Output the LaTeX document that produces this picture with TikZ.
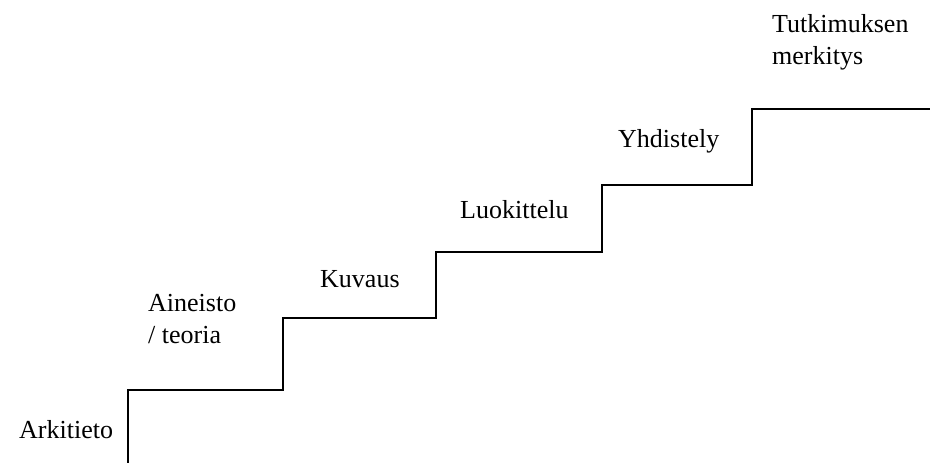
\documentclass[tikz,border=0pt]{standalone}
\usepackage{fontspec}
\setmainfont{Liberation Serif}
\begin{document}
\begin{tikzpicture}[x=1pt,y=-1pt,
  stairline/.style={line width=2pt,line join=miter},
  steplabel/.style={anchor=base west,inner sep=0pt,align=left,
    font=\fontsize{26}{31.5}\selectfont}]
  \useasboundingbox (0,0) rectangle (930,463);
  % staircase
  \draw[stairline] (128,463) -- (128,390) -- (283,390) -- (283,318)
    -- (436,318) -- (436,252) -- (602,252) -- (602,185)
    -- (752,185) -- (752,109) -- (930,109);
  % step labels (multi-line labels are placed by their last baseline)
  \node[steplabel] (arki) at (19,438) {Arkitieto};
  \node[steplabel] (aineisto) at (148,343) {Aineisto\\/ teoria};
  \node[steplabel] (kuvaus) at (320,287) {Kuvaus};
  \node[steplabel] (luokittelu) at (460,218) {Luokittelu};
  \node[steplabel] (yhdistely) at (618,147) {Yhdistely};
  \node[steplabel] (merkitys) at (772,64) {Tutkimuksen\\merkitys};
\end{tikzpicture}
\end{document}
